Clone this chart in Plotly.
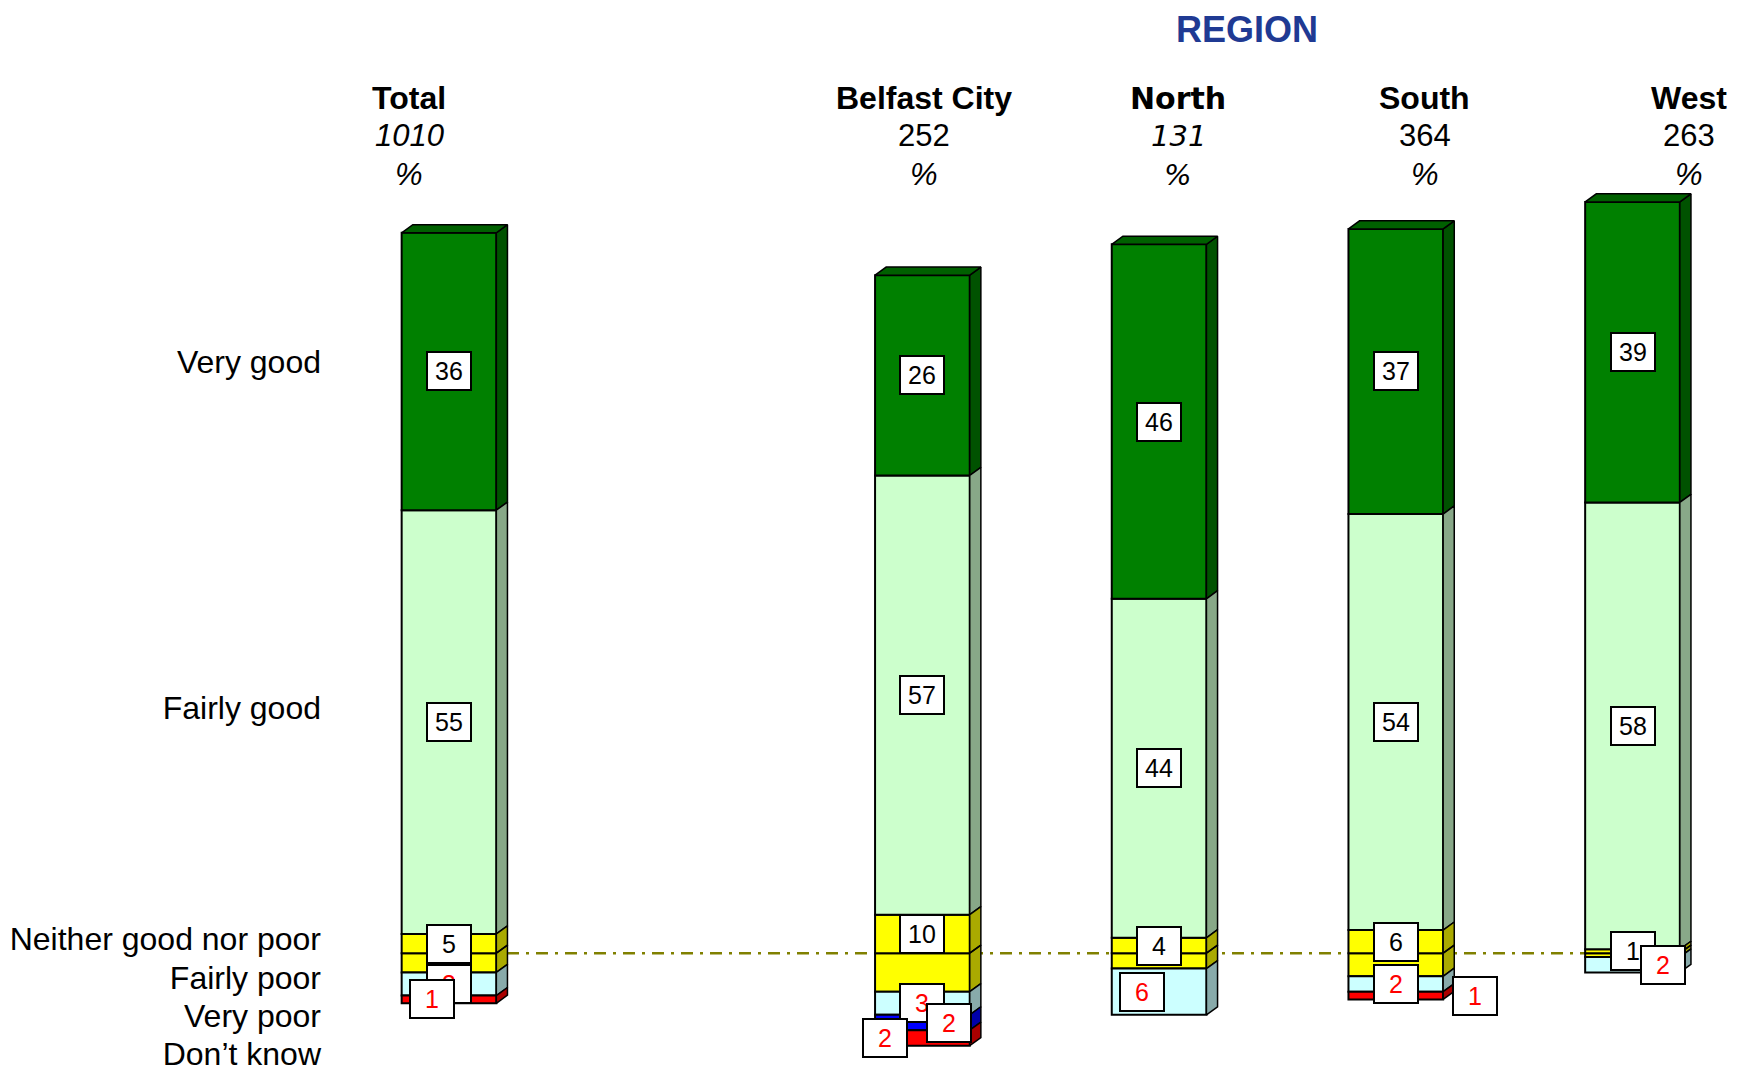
import plotly.graph_objects as go

# Data
groups = ['Total', 'Belfast City', 'North', 'South', 'West']
bases = ['1010', '252', '131', '364', '263']
very_good = [36, 26, 46, 37, 39]
fairly_good = [55, 57, 44, 54, 58]
neither = [5, 10, 4, 6, 1]
fairly_poor = [3, 3, 6, 2, 2]
very_poor = [0, 2, 0, 0, 0]
dont_know = [1, 2, 0, 1, 0]

row_labels = ['Very good', 'Fairly good', 'Neither good nor poor',
              'Fairly poor', 'Very poor', 'Don\u2019t know']

# Layout helpers (pixel values are figure coordinates)
x_pos = [0, 2, 3, 4, 5]
bar_w = 0.40
dx, dy = 0.047, 1.05          # depth of the 3D faces
W, H = 1746, 1070
ML, MR = 320, 10
baseline_px = 945.2
total_px = 441
px_per_unit = 7.705
px_per_x = 236.7

front = {'vg': '#008000', 'fg': '#CCFFCC', 'ne': '#FFFF00',
         'fp': '#CCFFFF', 'vp': '#0000FF', 'dk': '#FF0000'}
side = {'vg': '#005200', 'fg': '#88A888', 'ne': '#AAAA00',
        'fp': '#88AAAA', 'vp': '#0000AA', 'dk': '#AA0000'}

# stacking: positive up from 0, negative down from 0
pos_keys = [('ne', [v / 2 for v in neither]), ('fg', fairly_good), ('vg', very_good)]
neg_keys = [('ne', [v / 2 for v in neither]), ('fp', fairly_poor),
            ('vp', very_poor), ('dk', dont_know)]


def nz(vals, sign=1):
    return [sign * v if v else None for v in vals]


fig = go.Figure()

# front faces
for key, vals in neg_keys:
    fig.add_trace(go.Bar(x=x_pos, y=nz(vals, -1), width=bar_w,
                         marker=dict(color=front[key], line=dict(color='black', width=2)),
                         hoverinfo='skip', showlegend=False))
for key, vals in pos_keys:
    fig.add_trace(go.Bar(x=x_pos, y=nz(vals), width=bar_w,
                         marker=dict(color=front[key], line=dict(color='black', width=2)),
                         hoverinfo='skip', showlegend=False))

# segment extents
segments = []   # (key, bar index, y0, y1)
for i in range(len(groups)):
    y = 0
    for key, vals in pos_keys:
        if vals[i]:
            segments.append((key, i, y, y + vals[i]))
            y += vals[i]
    y = 0
    for key, vals in neg_keys:
        if vals[i]:
            segments.append((key, i, y - vals[i], y))
            y -= vals[i]

# side faces
for key in front:
    xs, ys = [], []
    for k, i, y0, y1 in segments:
        if k != key:
            continue
        xr = x_pos[i] + bar_w / 2
        xs += [xr, xr + dx, xr + dx, xr, xr, None]
        ys += [y0, y0 + dy, y1 + dy, y1, y0, None]
    if xs:
        fig.add_trace(go.Scatter(x=xs, y=ys, mode='lines', fill='toself',
                                 fillcolor=side[key], line=dict(color='black', width=1.5),
                                 hoverinfo='skip', showlegend=False))

# top faces
xs, ys = [], []
for i in range(len(groups)):
    top = neither[i] / 2 + fairly_good[i] + very_good[i]
    xl, xr = x_pos[i] - bar_w / 2, x_pos[i] + bar_w / 2
    xs += [xl, xl + dx, xr + dx, xr, xl, None]
    ys += [top, top + dy, top + dy, top, top, None]
fig.add_trace(go.Scatter(x=xs, y=ys, mode='lines', fill='toself',
                         fillcolor='#006000', line=dict(color='black', width=1.5),
                         hoverinfo='skip', showlegend=False))

# baseline
fig.add_shape(type='line', x0=x_pos[0], x1=x_pos[-1], y0=0, y1=0, layer='below',
              line=dict(color='#808000', width=2.5, dash='12px,7px,3px,7px'))

# value labels
shifts = {(0, 'dk'): -17, (1, 'vp'): 27, (1, 'dk'): -37, (2, 'fp'): -17,
          (3, 'dk'): 79, (4, 'fp'): 30}
values = {'vg': very_good, 'fg': fairly_good, 'ne': neither,
          'fp': fairly_poor, 'vp': very_poor, 'dk': dont_know}
for k, i, y0, y1 in segments:
    if k == 'ne' and y0 < 0:
        continue
    neg = k in ('fp', 'vp', 'dk')
    fig.add_annotation(x=x_pos[i], y=(y0 + y1) / 2, xref='x', yref='y',
                       text=str(values[k][i]), showarrow=False,
                       xshift=shifts.get((i, k), 0),
                       font=dict(family='Liberation Sans, Arial', size=25,
                                 color='#FF0000' if neg else 'black'),
                       bgcolor='white', bordercolor='black', borderwidth=2,
                       borderpad=2, width=38, height=32)

# column headers
head_shift = [-40, 2, 19, 29, 56]
italic_base = [True, False, True, False, False]
for i, g in enumerate(groups):
    fam = 'DejaVu Sans' if g == 'North' else 'Liberation Sans, Arial'
    for text, ypx, size, weight, style in [
            (g, 90, 32, 'bold', 'normal'),
            (bases[i], 128, 31, 'normal', 'italic' if italic_base[i] else 'normal'),
            ('%', 167, 31, 'normal', 'italic')]:
        fig.add_annotation(x=x_pos[i], y=1 - ypx / H, xref='x', yref='paper',
                           yanchor='middle', text=text, showarrow=False,
                           xshift=head_shift[i],
                           font=dict(family=fam, size=size - 2 if g == 'North' else size,
                                     color='black', weight=weight, style=style))

fig.add_annotation(x=(1239 - ML) / (W - ML - MR), y=1, xref='paper', yref='paper',
                   yanchor='top', text='REGION', showarrow=False, borderpad=0,
                   font=dict(family='Liberation Sans, Arial', size=36,
                             color='#1F3A93', weight='bold'))

# row labels on the y axis
label_y = [76.7, 31.8, 1.9, -3.2, -8.1, -13.0]

fig.update_layout(
    width=W, height=H,
    margin=dict(l=ML, r=MR, t=0, b=0),
    plot_bgcolor='white', paper_bgcolor='white',
    barmode='relative',
    showlegend=False,
    xaxis=dict(range=[(ML - total_px) / px_per_x, (W - MR - total_px) / px_per_x],
               visible=False),
    yaxis=dict(range=[-(H - baseline_px) / px_per_unit, baseline_px / px_per_unit],
               tickvals=label_y, ticktext=row_labels, ticks='',
               showgrid=False, zeroline=False, showline=False,
               ticklabelstandoff=6,
               tickfont=dict(family='Liberation Sans, Arial', size=32, color='black')),
)

fig.write_html('out.html')
